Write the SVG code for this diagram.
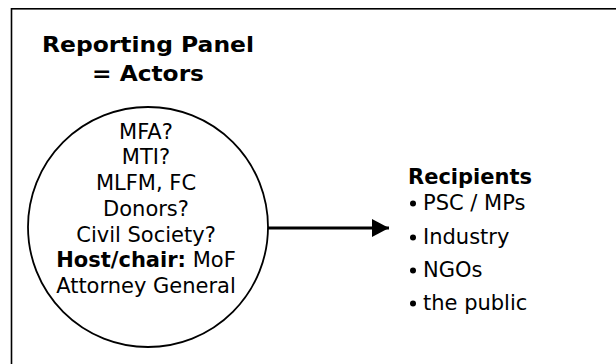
<svg xmlns="http://www.w3.org/2000/svg" width="616" height="364" viewBox="0 0 616 364">
<style>
text{font-family:"DejaVu Sans","Liberation Sans",sans-serif;fill:#000;font-size:21px}
.b{font-weight:bold}
.c{text-anchor:middle}
.frame{fill:#fff;stroke:#000;stroke-width:1.6}
.node{fill:#fff;stroke:#000;stroke-width:1.8}
.edge{stroke:#000;stroke-width:3;fill:none}
</style>
<defs>
<marker id="ah" markerUnits="userSpaceOnUse" markerWidth="18" markerHeight="18" refX="17" refY="9" orient="auto" viewBox="0 0 18 18">
<path d="M0,0 L17,9 L0,18 Z" fill="#000"/>
</marker>
</defs>
<rect width="616" height="364" fill="#fff"/>
<rect class="frame" x="11.5" y="8.8" width="700" height="500"/>
<g id="actors">
<text class="b c" x="148" y="51.7" textLength="212" lengthAdjust="spacingAndGlyphs">Reporting Panel</text>
<text class="b c" x="148" y="81" textLength="112" lengthAdjust="spacingAndGlyphs">= Actors</text>
<circle class="node" cx="148" cy="227" r="120"/>
<text class="c" x="146" y="139.3">MFA?</text>
<text class="c" x="146" y="163.5">MTI?</text>
<text class="c" x="146" y="190">MLFM, FC</text>
<text class="c" x="146" y="216">Donors?</text>
<text class="c" x="146" y="242.3">Civil Society?</text>
<text class="c" x="146" y="267.3"><tspan class="b">Host/chair:</tspan> MoF</text>
<text class="c" x="146" y="293.3">Attorney General</text>
</g>
<g id="connectors">
<line class="edge" x1="268" y1="228" x2="389" y2="228" marker-end="url(#ah)"/>
</g>
<g id="recipients">
<text class="b" x="408" y="184.3">Recipients</text>
<circle cx="413" cy="203.5" r="3"/>
<text x="423" y="210">PSC / MPs</text>
<circle cx="413" cy="237.5" r="3"/>
<text x="423" y="244">Industry</text>
<circle cx="413" cy="270.5" r="3"/>
<text x="423" y="277">NGOs</text>
<circle cx="413" cy="303.5" r="3"/>
<text x="423" y="310">the public</text>
</g>
</svg>
